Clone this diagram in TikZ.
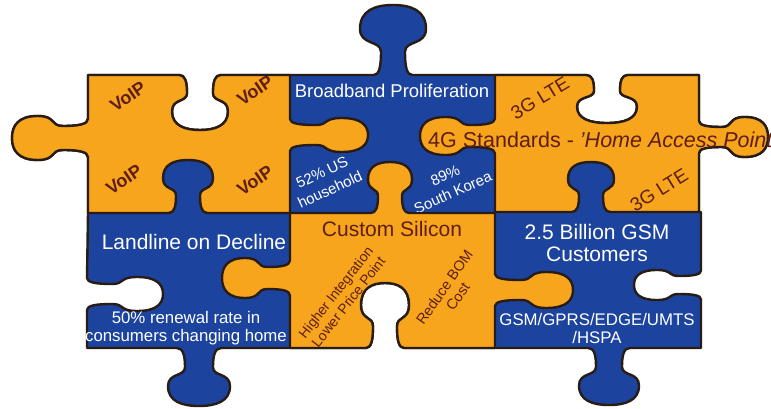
\documentclass[tikz,border=0pt]{standalone}
\usepackage{fontspec}
\setmainfont{Liberation Sans}
\definecolor{pzorange}{RGB}{247,165,28}
\definecolor{pzblue}{RGB}{28,68,158}
\definecolor{pzedge}{RGB}{40,28,20}
\definecolor{pzink}{RGB}{95,30,20}

% \mkknob{name}{x}{y}{ux}{uy}{neck}{bulb}{length}
% defines the control points of one jigsaw tab centred at (x,y) on an edge
% travelled in direction (ux,uy); a negative length gives a socket.
\newcommand\mkknob[8]{%
  \def\kpt##1##2##3{%
    \pgfmathsetmacro\kxv{#2+(##2)*(#4)+(##3)*(#5)}%
    \pgfmathsetmacro\kyv{#3+(##2)*(#5)-(##3)*(#4)}%
    \coordinate (#1-##1) at (\kxv,\kyv);}%
  \kpt{a}{-1.6*#6}{0}%
  \kpt{c1}{-1.15*#6}{0}%
  \kpt{c2}{-#6}{0.12*(#8)}%
  \kpt{b1}{-#6}{0.33*(#8)}%
  \kpt{c3}{-#6}{0.5*(#8)}%
  \kpt{c4}{-#7}{0.42*(#8)}%
  \kpt{p1}{-#7}{0.66*(#8)}%
  \kpt{c5}{-#7}{0.92*(#8)}%
  \kpt{c6}{-0.55*#7}{#8}%
  \kpt{t}{0}{#8}%
  \kpt{c7}{0.55*#7}{#8}%
  \kpt{c8}{#7}{0.92*(#8)}%
  \kpt{p2}{#7}{0.66*(#8)}%
  \kpt{c9}{#7}{0.42*(#8)}%
  \kpt{c10}{#6}{0.5*(#8)}%
  \kpt{b2}{#6}{0.33*(#8)}%
  \kpt{c11}{#6}{0.12*(#8)}%
  \kpt{c12}{1.15*#6}{0}%
  \kpt{e}{1.6*#6}{0}%
}
% path fragment of a tab defined with \mkknob
\newcommand\knob[1]{-- (#1-a) .. controls (#1-c1) and (#1-c2) .. (#1-b1)
  .. controls (#1-c3) and (#1-c4) .. (#1-p1)
  .. controls (#1-c5) and (#1-c6) .. (#1-t)
  .. controls (#1-c7) and (#1-c8) .. (#1-p2)
  .. controls (#1-c9) and (#1-c10) .. (#1-b2)
  .. controls (#1-c11) and (#1-c12) .. (#1-e)}

\begin{document}
\begin{tikzpicture}[x=1pt,y=-1pt,
  piece/.style={line width=2.4pt, draw=pzedge, line join=round},
  bluepiece/.style={piece, fill=pzblue},
  orangepiece/.style={piece, fill=pzorange},
  wlab/.style={text=white, inner sep=0pt},
  dlab/.style={text=pzink, inner sep=0pt},
  voip/.style={dlab, font=\fontsize{18}{20}\selectfont\bfseries, rotate=34}]
\useasboundingbox (0,0) rectangle (771,409);
\fill[white] (0,0) rectangle (771,409);

% tabs and sockets
\mkknob{s1}{200}{75}{1}{0}{13}{28}{-55}
\mkknob{k1}{393}{75}{1}{0}{12}{33}{70}
\mkknob{s2}{607}{75}{1}{0}{13}{30}{-48}
\mkknob{k2}{699}{137}{0}{1}{10}{20}{69}
\mkknob{s3}{701}{285}{0}{1}{9}{15}{-67}
\mkknob{k3}{609}{348}{-1}{0}{13}{30}{57}
\mkknob{s4}{385}{348}{-1}{0}{12}{24}{-65}
\mkknob{k4}{199}{348}{-1}{0}{14}{31}{58}
\mkknob{s5}{87}{294}{0}{-1}{10}{17}{-76}
\mkknob{k5}{88}{138}{0}{-1}{12}{22}{76}
\mkknob{k6}{290}{135}{0}{1}{10}{17}{78}
\mkknob{s7}{188}{213}{-1}{0}{12}{25}{-53}
\mkknob{s8}{591}{212}{-1}{0}{12}{23}{-50}
\mkknob{k9}{495}{136}{0}{-1}{11}{19}{75}
\mkknob{k10}{390}{213}{1}{0}{12}{22}{51}
\mkknob{k11}{495}{290}{0}{1}{10}{18}{78}
\mkknob{k12}{290}{278}{0}{-1}{11}{20}{68}

% whole puzzle outline, blue
\path[bluepiece] (88,75) \knob{s1} \knob{k1} \knob{s2} -- (699,75) \knob{k2}
  -- (699,212) -- (701,212) \knob{s3} -- (701,348) \knob{k3} \knob{s4}
  \knob{k4} -- (87,348) \knob{s5} -- (88,213) \knob{k5} -- cycle;

% labels on the blue pieces
\node[wlab, font=\fontsize{18.5}{20}\selectfont] (bb) at (392,91) {Broadband Proliferation};
\node[wlab, font=\fontsize{15}{19}\selectfont, rotate=25, align=center] (us) at (326,181) {52\% US\\household};
\node[wlab, font=\fontsize{15}{19}\selectfont, rotate=24, align=center] (kr) at (449,184) {89\%\\South Korea};
\node[wlab, font=\fontsize{21}{24}\selectfont] (land) at (194,242) {Landline on Decline};
\node[wlab, font=\fontsize{16.8}{18}\selectfont, align=center] (renew) at (186,328) {50\% renewal rate in\\consumers changing home};
\node[wlab, font=\fontsize{21}{22}\selectfont, align=center] (gsm) at (597,243) {2.5 Billion GSM\\Customers};
\node[wlab, font=\fontsize{16.8}{18}\selectfont, align=center] (std) at (597,328) {GSM/GPRS/EDGE/UMTS\\/HSPA};

% orange pieces
\path[orangepiece] (88,75) \knob{s1} -- (290,75) \knob{k6} -- (290,213)
  \knob{s7} -- (88,213) \knob{k5} -- cycle;
\path[orangepiece] (495,75) \knob{s2} -- (699,75) \knob{k2} -- (699,212)
  \knob{s8} -- (495,212) \knob{k9} -- cycle;
\path[orangepiece] (290,213) \knob{k10} -- (495,213) \knob{k11} -- (495,348)
  \knob{s4} -- (290,348) \knob{k12} -- cycle;

% labels on the orange pieces
\node[voip] (v1) at (128,97) {VoIP};
\node[voip] (v2) at (255,91) {VoIP};
\node[voip] (v3) at (124,180) {VoIP};
\node[voip] (v4) at (255,181) {VoIP};
\node[dlab, font=\fontsize{19}{20}\selectfont, rotate=31] (lte1) at (540,98) {3G LTE};
\node[dlab, font=\fontsize{19}{20}\selectfont, rotate=32] (lte2) at (659,190) {3G LTE};
\node[dlab, font=\fontsize{21.5}{23}\selectfont, anchor=base west] (hap) at (428,147) {4G Standards - \textit{'Home Access Point}};
\node[dlab, font=\fontsize{21}{23}\selectfont] (cs) at (392,229) {Custom Silicon};
\node[dlab, font=\fontsize{14}{16}\selectfont, rotate=52, align=center] (hi) at (342,297) {Higher Integration\\Lower Price Point};
\node[dlab, font=\fontsize{14.5}{16.5}\selectfont, rotate=55, align=center] (bom) at (451,292) {Reduce BOM\\Cost};
\end{tikzpicture}
\end{document}
